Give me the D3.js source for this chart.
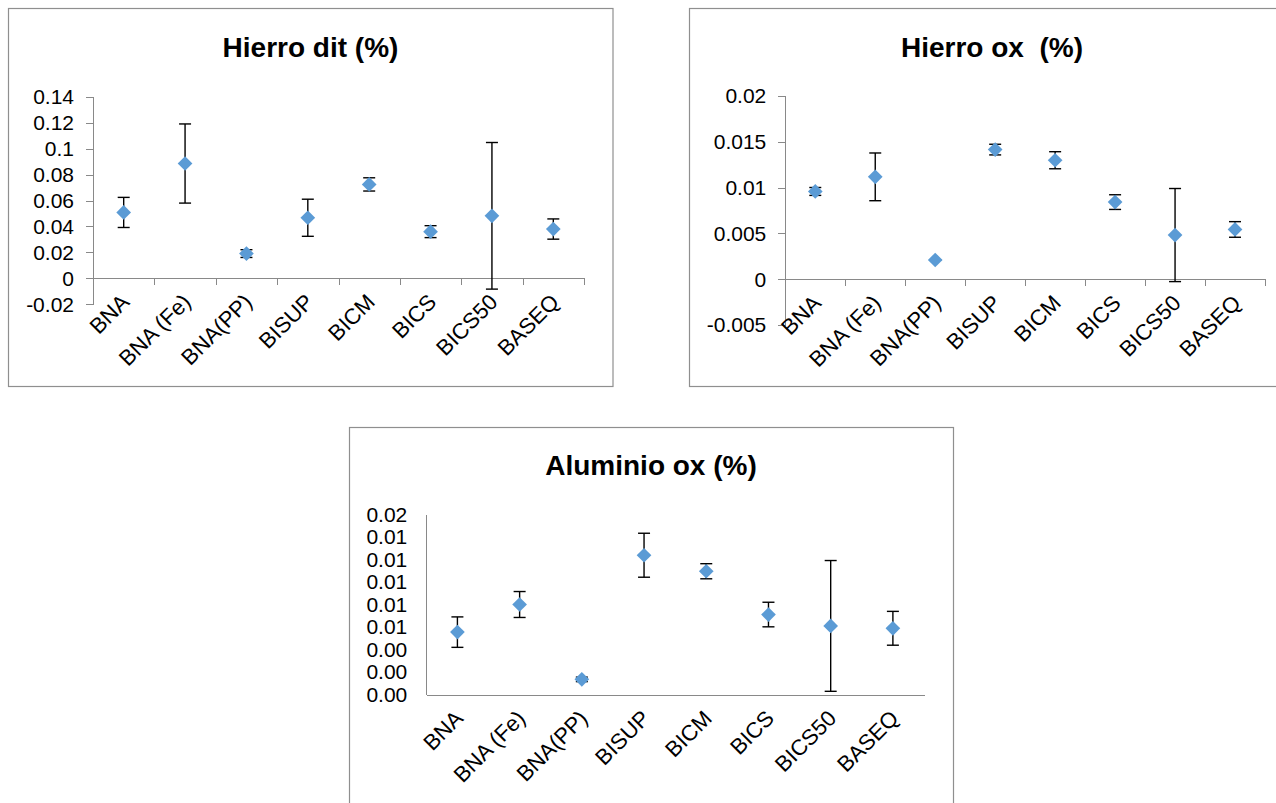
<!DOCTYPE html>
<html>
<head>
<meta charset="utf-8">
<script src="https://cdn.jsdelivr.net/npm/d3@7"></script>
<style>
  body { margin: 0; background: #fff; }
  svg { display: block; font-family: "Liberation Sans", Arial, sans-serif; }
  .axis path, .axis line { stroke: #898989; stroke-width: 1px; shape-rendering: crispEdges; }
  .axis text { fill: #000; font-size: 21px; font-family: "Liberation Sans", Arial, sans-serif; }
</style>
</head>
<body>
<svg id="chart" width="1276" height="803"></svg>
<script>
// categories shared by all three panels
const categories = ["BNA", "BNA (Fe)", "BNA(PP)", "BISUP", "BICM", "BICS", "BICS50", "BASEQ"];

// Hierro dit (%)
const hierroDit    = [0.0508, 0.0885, 0.0191, 0.0467, 0.0724, 0.0360, 0.0482, 0.0380];
const hierroDitErr = [0.0116, 0.0305, 0.0030, 0.0143, 0.0051, 0.0046, 0.0565, 0.0078];
const hierroDitTicks  = [-0.02, 0, 0.02, 0.04, 0.06, 0.08, 0.1, 0.12, 0.14];
const hierroDitLabels = ["-0.02", "0", "0.02", "0.04", "0.06", "0.08", "0.1", "0.12", "0.14"];

// Hierro ox (%)
const hierroOx    = [0.00957, 0.01116, 0.00210, 0.01413, 0.01297, 0.00841, 0.00482, 0.00543];
const hierroOxErr = [0.00043, 0.00260, 0.00003, 0.00058, 0.00093, 0.00080, 0.00507, 0.00085];
const hierroOxTicks  = [-0.005, 0, 0.005, 0.01, 0.015, 0.02];
const hierroOxLabels = ["-0.005", "0", "0.005", "0.01", "0.015", "0.02"];

// Aluminio ox (%)
const aluminioOx    = [0.00555, 0.00800, 0.00136, 0.01237, 0.01095, 0.00711, 0.00610, 0.00589];
const aluminioOxErr = [0.00135, 0.00115, 0.00020, 0.00195, 0.00067, 0.00109, 0.00580, 0.00150];
const aluminioOxTicks  = [0, 0.002, 0.004, 0.006, 0.008, 0.01, 0.012, 0.014, 0.016];
const aluminioOxLabels = ["0.00", "0.00", "0.00", "0.01", "0.01", "0.01", "0.01", "0.01", "0.02"];

const svg = d3.select("#chart");

const drawPanel = function (opt) {
    const g = svg.append("g");

    // outer frame
    g.append("rect")
        .attr("x", opt.box[0]).attr("y", opt.box[1])
        .attr("width", opt.box[2]).attr("height", opt.box[3])
        .attr("fill", "#fff")
        .attr("stroke", "#8f8f8f")
        .attr("stroke-width", 1.2);

    g.append("text")
        .attr("x", opt.titleX).attr("y", opt.titleY)
        .attr("text-anchor", "middle")
        .attr("font-size", "28px")
        .attr("font-weight", "bold")
        .attr("xml:space", "preserve")
        .style("white-space", "pre")
        .text(opt.title);

    const y = d3.scaleLinear().domain(opt.domain).range([opt.y0, opt.y1]);
    const x = d3.scaleBand().domain(categories).range([opt.x0, opt.x1]);
    const xb = d3.scaleLinear().domain([0, categories.length]).range([opt.x0, opt.x1]);
    const axisY = opt.domain[0] < 0 ? y(0) : opt.y0;

    // y axis
    g.append("g")
        .attr("class", "axis")
        .attr("transform", `translate(${opt.x0},0)`)
        .call(d3.axisLeft(y)
            .tickValues(opt.ticks)
            .tickSize(opt.tickMarks ? 7 : 0)
            .tickSizeOuter(0)
            .tickPadding(opt.tickMarks ? 12 : 19)
            .tickFormat((d, i) => opt.labels[i]));

    // x axis line with ticks at category boundaries
    g.append("g")
        .attr("class", "axis")
        .attr("transform", `translate(0,${axisY})`)
        .call(d3.axisBottom(xb)
            .tickValues(d3.range(categories.length + 1))
            .tickSize(opt.tickMarks ? 7 : 0)
            .tickSizeOuter(0)
            .tickFormat(""));

    // rotated category labels
    g.append("g").selectAll("text")
        .data(categories)
        .enter()
        .append("text")
        .attr("text-anchor", "end")
        .attr("font-size", "22px")
        .attr("transform", d => `translate(${x(d) + x.bandwidth() / 2 + 7},${axisY + 25}) rotate(-45)`)
        .text(d => d);

    // error bars
    const cap = 6;
    const err = g.append("g")
        .attr("stroke", "#000")
        .attr("stroke-width", 1.4);
    opt.values.forEach((v, i) => {
        const cx = x(categories[i]) + x.bandwidth() / 2;
        const top = y(v + opt.errors[i]), bot = y(v - opt.errors[i]);
        err.append("line").attr("x1", cx).attr("x2", cx).attr("y1", top).attr("y2", bot);
        err.append("line").attr("x1", cx - cap).attr("x2", cx + cap).attr("y1", top).attr("y2", top);
        err.append("line").attr("x1", cx - cap).attr("x2", cx + cap).attr("y1", bot).attr("y2", bot);
    });

    // diamond markers
    g.append("g").selectAll("path")
        .data(opt.values)
        .enter()
        .append("path")
        .attr("d", d3.symbol().type(d3.symbolSquare).size(108))
        .attr("fill", "#5b9bd5")
        .attr("transform", (d, i) => `translate(${x(categories[i]) + x.bandwidth() / 2},${y(d)}) rotate(45)`);
}

drawPanel({
    title: "Hierro dit (%)", titleX: 310.5, titleY: 57,
    box: [8.5, 8.5, 604.5, 378],
    x0: 93, x1: 584, y0: 304.3, y1: 96.7,
    domain: [-0.02, 0.14], ticks: hierroDitTicks, labels: hierroDitLabels,
    values: hierroDit, errors: hierroDitErr, tickMarks: true
});

drawPanel({
    title: "Hierro ox  (%)", titleX: 992, titleY: 57,
    box: [689.5, 8.5, 640, 378],
    x0: 785.3, x1: 1265, y0: 325.2, y1: 95.7,
    domain: [-0.005, 0.02], ticks: hierroOxTicks, labels: hierroOxLabels,
    values: hierroOx, errors: hierroOxErr, tickMarks: true
});

drawPanel({
    title: "Aluminio ox (%)", titleX: 651, titleY: 475,
    box: [349.5, 427.5, 604, 400],
    x0: 426.3, x1: 924, y0: 694.7, y1: 514.3,
    domain: [0, 0.016], ticks: aluminioOxTicks, labels: aluminioOxLabels,
    values: aluminioOx, errors: aluminioOxErr, tickMarks: false
});
</script>
</body>
</html>
